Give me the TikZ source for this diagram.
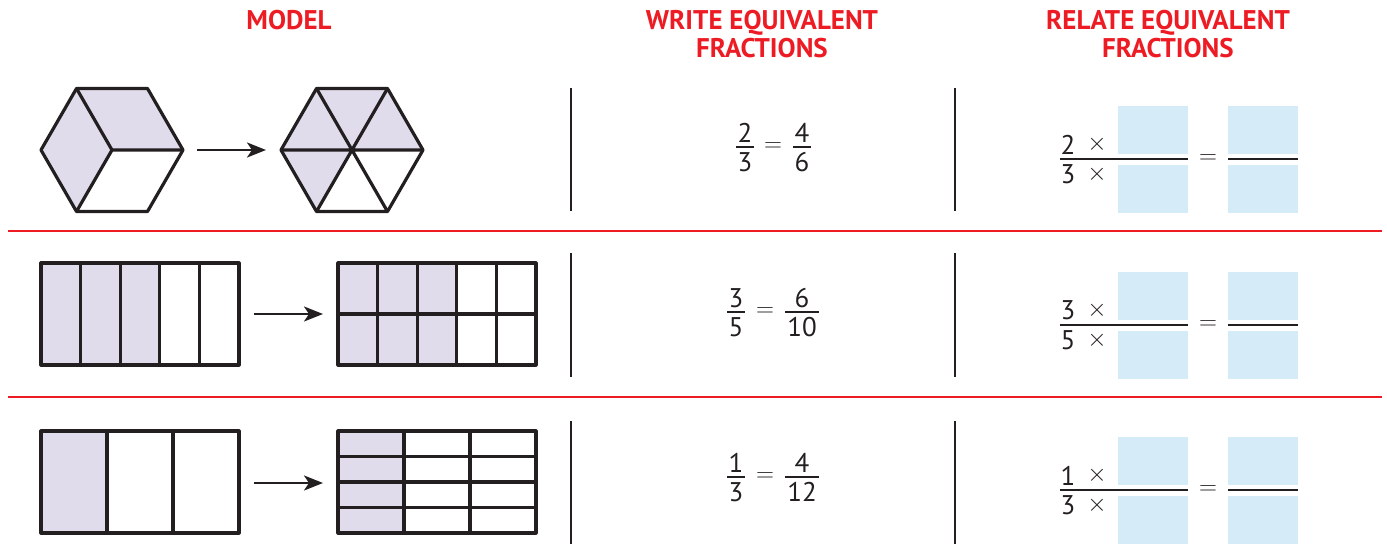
\documentclass[tikz,border=0pt]{standalone}
\usepackage{fontspec}
\setmainfont{PT Sans}
\newfontfamily\hdrfont{PT Sans}
\usetikzlibrary{arrows.meta}
\definecolor{hdrred}{HTML}{ED1C24}
\definecolor{lav}{HTML}{E1DCEC}
\definecolor{boxblue}{HTML}{D5ECF8}
\definecolor{ink}{HTML}{231F20}
\tikzset{
  hdr/.style={font=\hdrfont\bfseries\fontsize{27}{28.5}\selectfont, text=hdrred, align=center, inner sep=0pt},
  num/.style={font=\fontsize{27}{27}\selectfont, text=ink, inner sep=0pt},
  sym/.style={font=\fontsize{26}{26}\selectfont, text=ink, inner sep=0pt},
  outl/.style={draw=ink, line width=3.2pt, line join=round},
  bar/.style={draw=ink, line width=1.3pt},
  sep/.style={draw=hdrred, line width=2.6pt},
  vline/.style={draw=ink, line width=1.1pt},
  arr/.style={draw=ink, line width=2.4pt, -{Stealth[length=19pt,width=15pt,inset=5pt]}}
}
\begin{document}
\begin{tikzpicture}[x=1pt,y=-1pt]
\useasboundingbox (0,0) rectangle (1387,544);
% headers
\node[hdr] (h1) at (289,20) {MODEL};
\node[hdr, anchor=north] (h2) at (762,10) {WRITE EQUIVALENT\\FRACTIONS};
\node[hdr, anchor=north] (h3) at (1168,10) {RELATE EQUIVALENT\\FRACTIONS};
% separators
\coordinate (s1a) at (8,231); \coordinate (s1b) at (1382,231);
\coordinate (s2a) at (8,397); \coordinate (s2b) at (1382,397);
\draw[sep] (s1a) -- (s1b);
\draw[sep] (s2a) -- (s2b);
% vertical lines
\foreach \x in {571,955}{
  \draw[vline] (\x,88) -- (\x,211);
  \draw[vline] (\x,253) -- (\x,377);
  \draw[vline] (\x,421) -- (\x,544);
}
% ---- row 1 hexagons
\begin{scope}[shift={(112,150)}]
  \coordinate (hL) at (-71,0); \coordinate (hTL) at (-35.5,-61.5);
  \coordinate (hTR) at (35.5,-61.5); \coordinate (hR) at (71,0);
  \coordinate (hBR) at (35.5,61.5); \coordinate (hBL) at (-35.5,61.5);
  \coordinate (hC) at (0,0);
  \fill[lav] (hL) -- (hTL) -- (hC) -- (hBL) -- cycle;
  \fill[lav] (hTL) -- (hTR) -- (hR) -- (hC) -- cycle;
  \draw[outl] (hL) -- (hTL) -- (hTR) -- (hR) -- (hBR) -- (hBL) -- cycle;
  \draw[outl] (hTL) -- (hC) -- (hR) (hC) -- (hBL);
\end{scope}
\begin{scope}[shift={(352,150)}]
  \coordinate (gL) at (-71,0); \coordinate (gTL) at (-35.5,-61.5);
  \coordinate (gTR) at (35.5,-61.5); \coordinate (gR) at (71,0);
  \coordinate (gBR) at (35.5,61.5); \coordinate (gBL) at (-35.5,61.5);
  \coordinate (gC) at (0,0);
  \fill[lav] (gL) -- (gTL) -- (gTR) -- (gR) -- cycle;
  \fill[lav] (gL) -- (gC) -- (gBL) -- cycle;
  \draw[outl] (gL) -- (gTL) -- (gTR) -- (gR) -- (gBR) -- (gBL) -- cycle;
  \draw[outl] (gTL) -- (gBR) (gTR) -- (gBL) (gL) -- (gR);
\end{scope}
\coordinate (a1s) at (197,150); \coordinate (a1e) at (266,150);
\draw[arr] (a1s) -- (a1e);
% ---- row 2 rectangles
\fill[lav] (41,263) rectangle (159.8,365);
\draw[outl] (41,263) rectangle (239,365);
\foreach \i in {1,2,3,4}{ \draw[outl] ({41+39.6*\i},263) -- ({41+39.6*\i},365); }
\fill[lav] (338,263) rectangle (456.8,365);
\draw[outl] (338,263) rectangle (536,365);
\foreach \i in {1,2,3,4}{ \draw[outl] ({338+39.6*\i},263) -- ({338+39.6*\i},365); }
\draw[outl] (338,314) -- (536,314);
\coordinate (a2s) at (254,314); \coordinate (a2e) at (323,314);
\draw[arr] (a2s) -- (a2e);
% ---- row 3 rectangles
\fill[lav] (41,431) rectangle (107,533);
\draw[outl] (41,431) rectangle (239,533);
\foreach \i in {1,2}{ \draw[outl] ({41+66*\i},431) -- ({41+66*\i},533); }
\fill[lav] (338,431) rectangle (404,533);
\draw[outl] (338,431) rectangle (536,533);
\foreach \i in {1,2}{ \draw[outl] ({338+66*\i},431) -- ({338+66*\i},533); }
\foreach \j in {1,2,3}{ \draw[outl] (338,{431+25.5*\j}) -- (536,{431+25.5*\j}); }
\coordinate (a3s) at (254,483); \coordinate (a3e) at (323,483);
\draw[arr] (a3s) -- (a3e);
% ---- middle fractions
% row 1
\node[num] (m1an) at (745,133) {2};
\node[num] (m1ad) at (745,162) {3};
\draw[bar] (736,147) -- (754,147);
\node[sym] (m1eq) at (773,147) {$=$};
\node[num] (m1bn) at (802,133) {4};
\node[num] (m1bd) at (802,162) {6};
\draw[bar] (793,147) -- (811,147);
% row 2
\node[num] (m2an) at (736,298) {3};
\node[num] (m2ad) at (736,327) {5};
\draw[bar] (727,312) -- (745,312);
\node[sym] (m2eq) at (765,312) {$=$};
\node[num] (m2bn) at (802,298) {6};
\node[num] (m2bd) at (802,327) {10};
\draw[bar] (785,312) -- (819,312);
% row 3
\node[num] (m3an) at (736,463) {1};
\node[num] (m3ad) at (736,492) {3};
\draw[bar] (727,477) -- (745,477);
\node[sym] (m3eq) at (765,477) {$=$};
\node[num] (m3bn) at (802,463) {4};
\node[num] (m3bd) at (802,492) {12};
\draw[bar] (785,477) -- (819,477);
% ---- right fractions
\foreach \b/\t/\d/\r in {159/2/3/1, 325/3/5/2, 490/1/3/3}{
  \fill[boxblue] (1118,\b-53) rectangle (1188,\b-5);
  \fill[boxblue] (1118,\b+6) rectangle (1188,\b+54);
  \fill[boxblue] (1228,\b-53) rectangle (1298,\b-5);
  \fill[boxblue] (1228,\b+6) rectangle (1298,\b+54);
  \node[num] (rn\r) at (1068,\b-14.5) {\t};
  \node[sym] (rx\r) at (1097,\b-14.5) {$\times$};
  \node[num] (rd\r) at (1068,\b+15.5) {\d};
  \node[sym] (ry\r) at (1097,\b+15.5) {$\times$};
  \draw[bar] (1060,\b) -- (1188,\b);
  \node[sym] (req\r) at (1208,\b) {$=$};
  \draw[bar] (1228,\b) -- (1298,\b);
}
\end{tikzpicture}
\end{document}
